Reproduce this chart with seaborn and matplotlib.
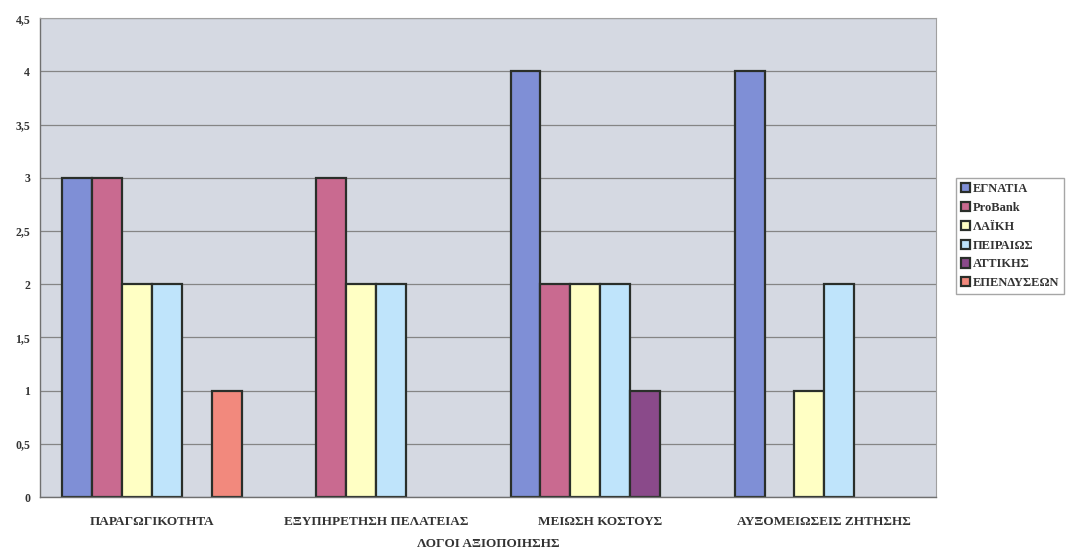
import matplotlib
matplotlib.use("Agg")
import matplotlib.pyplot as plt
import seaborn as sns
import pandas as pd
from matplotlib.ticker import FuncFormatter

# Categories and series values
categories = ["ΠΑΡΑΓΩΓΙΚΟΤΗΤΑ", "ΕΞΥΠΗΡΕΤΗΣΗ ΠΕΛΑΤΕΙΑΣ", "ΜΕΙΩΣΗ ΚΟΣΤΟΥΣ", "ΑΥΞΟΜΕΙΩΣΕΙΣ ΖΗΤΗΣΗΣ"]
banks = ["ΕΓΝΑΤΙΑ", "ProBank", "ΛΑΪΚΗ", "ΠΕΙΡΑΙΩΣ", "ΑΤΤΙΚΗΣ", "ΕΠΕΝΔΥΣΕΩΝ"]
egnatia = [3, 0, 4, 4]
probank = [3, 3, 2, 0]
laiki = [2, 2, 2, 1]
peiraios = [2, 2, 2, 2]
attikis = [0, 0, 1, 0]
ependyseon = [1, 0, 0, 0]
colors = ["#7f8fd6", "#c96a90", "#ffffc4", "#bfe4fb", "#8a4a8a", "#f2897d"]

series = [egnatia, probank, laiki, peiraios, attikis, ependyseon]
rows = []
for bank, vals in zip(banks, series):
    for cat, v in zip(categories, vals):
        if v > 0:
            rows.append({"category": cat, "bank": bank, "value": v})
df = pd.DataFrame(rows)

sns.set_style("white")
plt.rcParams["font.family"] = ["Liberation Serif", "DejaVu Serif"]
plt.rcParams["font.weight"] = "bold"

fig = plt.figure(figsize=(10.8, 5.52), dpi=100)
ax = fig.add_axes([0.037, 0.0996, 0.83, 0.8674])
ax.set_facecolor("#d5d9e2")

sns.barplot(data=df, x="category", y="value", hue="bank", order=categories,
            hue_order=banks, palette=colors, width=0.8, edgecolor="#2a2f2a",
            linewidth=1.6, saturation=1, ax=ax)

ax.set_ylim(0, 4.5)
ax.set_yticks([i * 0.5 for i in range(10)])
ax.yaxis.set_major_formatter(FuncFormatter(lambda v, p: f"{v:g}".replace(".", ",")))
ax.yaxis.grid(True, color="#858585", linewidth=0.9)
ax.set_axisbelow(True)

for s in ["top", "right"]:
    ax.spines[s].set_color("#a0a0a0")
    ax.spines[s].set_linewidth(0.8)
for s in ["left", "bottom"]:
    ax.spines[s].set_color("#707070")
    ax.spines[s].set_linewidth(1.0)

ax.tick_params(axis="y", labelsize=8.5, length=3, color="#707070", pad=4)
ax.tick_params(axis="x", labelsize=9.5, length=0, pad=14)
for t in ax.get_xticklabels() + ax.get_yticklabels():
    t.set_fontweight("bold")
    t.set_color("#333333")

ax.set_xlabel("ΛΟΓΟΙ ΑΞΙΟΠΟΙΗΣΗΣ", fontsize=9.5, fontweight="bold", color="#333333", labelpad=7)
ax.set_ylabel("")

leg = ax.legend(loc="center left", bbox_to_anchor=(1.022, 0.545), frameon=True,
                fancybox=False, edgecolor="#909090", fontsize=9,
                handlelength=0.75, handleheight=0.75, handletextpad=0.2,
                labelspacing=0.55, borderpad=0.4, borderaxespad=0)
for t in leg.get_texts():
    t.set_fontweight("bold")
    t.set_color("#333333")

plt.savefig("out.png", dpi=100)
plt.close()
